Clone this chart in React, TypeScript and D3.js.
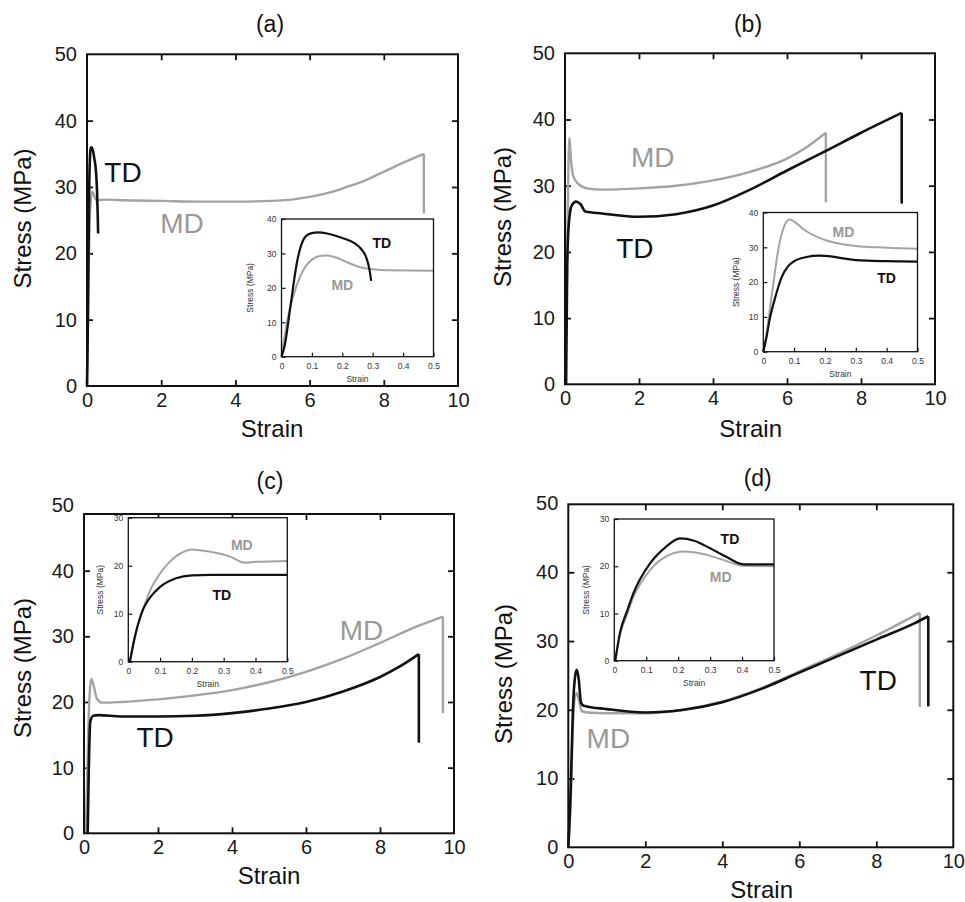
import React, { useEffect, useRef } from "react";
import * as d3 from "d3";

type Pt = [number, number];

// ---- panel (a) ----
const aMainTD: Pt[] = [[0, 0], [0.02, 8], [0.04, 20], [0.06, 30], [0.08, 34.5], [0.1, 35.8], [0.12, 36], [0.16, 35.5], [0.2, 34.2], [0.24, 32.5], [0.27, 29.5], [0.29, 25.5], [0.3, 23]];
const aMainMD: Pt[] = [[0, 0], [0.04, 15], [0.08, 26], [0.14, 29.3], [0.25, 28], [0.5, 28.1], [1, 28], [2, 27.9], [3, 27.8], [4, 27.8], [5, 27.9], [5.5, 28.1], [6, 28.5], [6.5, 29.1], [7, 30], [7.5, 31], [8, 32.3], [8.5, 33.6], [9.08, 35]];
const aInsetTD: Pt[] = [[0, 0], [0.01, 3], [0.03, 15], [0.05, 27], [0.065, 32.5], [0.08, 35], [0.1, 35.9], [0.12, 36.1], [0.15, 35.8], [0.2, 34.5], [0.24, 33], [0.26, 31.5], [0.28, 28.5], [0.29, 25], [0.295, 22]];
const aInsetMD: Pt[] = [[0, 0], [0.02, 11], [0.04, 18], [0.06, 23], [0.08, 26.3], [0.1, 28.2], [0.13, 29.3], [0.15, 29.4], [0.18, 28.8], [0.22, 27.3], [0.26, 26], [0.3, 25.4], [0.35, 25.1], [0.5, 25]];

// ---- panel (b) ----
const bMainTD: Pt[] = [[0.03, 0], [0.06, 18], [0.1, 24], [0.18, 27], [0.3, 27.6], [0.42, 27.2], [0.55, 26.1], [1, 25.8], [2, 25.3], [3, 25.7], [4, 27], [5, 29.4], [6, 32.3], [7, 35.1], [8, 38], [9.1, 41]];
const bMainMD: Pt[] = [[0, 0], [0.05, 15], [0.09, 32], [0.12, 37.2], [0.16, 34], [0.22, 31.5], [0.35, 30.3], [0.6, 29.6], [1, 29.4], [2, 29.6], [3, 30], [4, 30.8], [5, 32.1], [6, 34.1], [6.5, 35.7], [7.05, 38]];
const bInsetTD: Pt[] = [[0, 0], [0.01, 4], [0.02, 9], [0.04, 16], [0.06, 21.5], [0.08, 24.5], [0.1, 26], [0.14, 27.2], [0.18, 27.6], [0.22, 27.4], [0.26, 26.8], [0.3, 26.3], [0.4, 26], [0.5, 25.9]];
const bInsetMD: Pt[] = [[0, 0], [0.01, 5], [0.03, 18], [0.05, 30], [0.07, 36.5], [0.085, 38], [0.1, 37.4], [0.13, 35.2], [0.18, 32.8], [0.25, 31], [0.3, 30.4], [0.4, 29.9], [0.5, 29.6]];

// ---- panel (c) ----
const cMainTD: Pt[] = [[0.1, 0], [0.13, 10], [0.17, 17], [0.25, 17.9], [0.4, 18], [1, 17.8], [2, 17.8], [3, 17.9], [4, 18.3], [5, 19], [6, 20], [7, 21.6], [8, 23.8], [8.5, 25.3], [9.05, 27.3]];
const cMainMD: Pt[] = [[0.05, 0], [0.1, 12], [0.15, 21], [0.2, 23.5], [0.26, 22.5], [0.35, 20.5], [0.5, 19.9], [1, 20], [2, 20.4], [3, 21], [4, 21.8], [5, 23], [6, 24.6], [7, 26.6], [8, 29], [9, 31.5], [9.7, 33]];
const cInsetTD: Pt[] = [[0.005, 0], [0.02, 5], [0.047, 11], [0.07, 13.5], [0.1, 15.6], [0.15, 17.4], [0.2, 18], [0.26, 18.1], [0.5, 18.1]];
const cInsetMD: Pt[] = [[0.005, 0], [0.02, 5], [0.047, 11], [0.07, 15], [0.1, 18.4], [0.13, 20.8], [0.16, 22.4], [0.2, 23.4], [0.25, 23], [0.32, 21.9], [0.367, 20.6], [0.4, 20.8], [0.5, 21]];

// ---- panel (d) ----
const dMainTD: Pt[] = [[0, 0], [0.06, 8], [0.12, 20], [0.18, 25], [0.22, 25.8], [0.27, 24.5], [0.33, 21], [0.4, 20.6], [1, 20.1], [2, 19.6], [3, 20], [4, 21.1], [5, 23], [6, 25.4], [7, 27.8], [8, 30.2], [9, 32.6], [9.35, 33.6]];
const dMainMD: Pt[] = [[0, 0], [0.06, 6], [0.12, 18], [0.18, 22], [0.22, 22.4], [0.28, 21.3], [0.35, 19.8], [0.5, 19.6], [1, 19.5], [2, 19.5], [3, 20], [4, 21.2], [5, 23.1], [6, 25.6], [7, 28.1], [8, 30.8], [9.13, 34.1]];
const dInsetTD: Pt[] = [[0.003, 0], [0.018, 6], [0.04, 10.5], [0.06, 14.3], [0.112, 20.6], [0.16, 24], [0.206, 25.9], [0.25, 25.4], [0.3, 23.8], [0.35, 22], [0.404, 20.4], [0.5, 20.4]];
const dInsetMD: Pt[] = [[0.003, 0], [0.018, 5.5], [0.04, 9.8], [0.06, 13.5], [0.112, 19.2], [0.16, 22], [0.22, 23.1], [0.27, 22.7], [0.33, 21.6], [0.404, 20.1], [0.5, 20]];

// break (fracture) stress at end of each main curve
const aBreak = { td: null, md: 26 };
const bBreak = { td: 27.3, md: 27.5 };
const cBreak = { td: 13.8, md: 18.3 };
const dBreak = { td: 20.5, md: 20.4 };

const mainXTicks = [0, 2, 4, 6, 8, 10];
const mainYTicks = [0, 10, 20, 30, 40, 50];
const insetXTicks = [0, 0.1, 0.2, 0.3, 0.4, 0.5];
const insetYTicks40 = [0, 10, 20, 30, 40];
const insetYTicks30 = [0, 10, 20, 30];

const FONT = "'Liberation Sans', Arial, Helvetica, sans-serif";
const GRAY = "#a3a3a3";
const BLACK = "#111";

const panels = [
  {
    title: "(a)", titleX: 270, titleY: 32,
    frame: { l: 87, t: 54.3, r: 458, b: 386 }, y50: 54.3,
    xLabel: [272, 437], yLabel: [31, 218.5],
    td: aMainTD, md: aMainMD, brk: aBreak, tdLabel: [0.97, 32.3], mdLabel: [2.56, 24.6],
    inset: { l: 281.5, t: 219, r: 433.5, b: 356.7, yMax: 40, yTicks: insetYTicks40, td: aInsetTD, md: aInsetMD, tdLabel: [0.33, 33], mdLabel: [0.2, 20.8], yLabelDx: -29 },
  },
  {
    title: "(b)", titleX: 748, titleY: 32,
    frame: { l: 565, t: 53.3, r: 935, b: 384.3 }, y50: 53.3,
    xLabel: [750.7, 437], yLabel: [511, 217],
    td: bMainTD, md: bMainMD, brk: bBreak, tdLabel: [1.89, 20.6], mdLabel: [2.37, 34.4],
    inset: { l: 763.3, t: 212.5, r: 917.5, b: 351.7, yMax: 40, yTicks: insetYTicks40, td: bInsetTD, md: bInsetMD, tdLabel: [0.4, 21.3], mdLabel: [0.26, 34.3], yLabelDx: -24 },
  },
  {
    title: "(c)", titleX: 270, titleY: 488.5,
    frame: { l: 84, t: 514, r: 454, b: 833.3 }, y50: 505,
    xLabel: [269, 884], yLabel: [31, 668],
    td: cMainTD, md: cMainMD, brk: cBreak, tdLabel: [1.92, 14.7], mdLabel: [7.5, 31],
    inset: { l: 128.3, t: 517.7, r: 287.3, b: 661.7, yMax: 30, yTicks: insetYTicks30, td: cInsetTD, md: cInsetMD, tdLabel: [0.294, 13.9], mdLabel: [0.357, 24.3], yLabelDx: -25 },
  },
  {
    title: "(d)", titleX: 757.7, titleY: 485.5,
    frame: { l: 568.3, t: 504.3, r: 953.3, b: 847.3 }, y50: 503.5,
    xLabel: [761.7, 898], yLabel: [512, 674],
    td: dMainTD, md: dMainMD, brk: dBreak, tdLabel: [8.05, 24.35], mdLabel: [1.04, 15.9],
    inset: { l: 614.3, t: 519, r: 774, b: 660.7, yMax: 30, yTicks: insetYTicks30, td: dInsetTD, md: dInsetMD, tdLabel: [0.362, 25.7], mdLabel: [0.333, 17.8], yLabelDx: -25 },
  },
];

function styleAxis(sel: any, size: number, color = "#1a1a1a") {
  sel.select(".domain").remove();
  sel.attr("font-size", size).attr("font-family", FONT);
  sel.selectAll("text").attr("fill", color);
}

function drawPanel(svg: any, p: any) {
  const g = svg.append("g");
  const f = p.frame;
  const x = d3.scaleLinear().domain([0, 10]).range([f.l, f.r]);
  const y = d3.scaleLinear().domain([0, 50]).range([f.b, p.y50]);

  g.append("text").attr("x", p.titleX).attr("y", p.titleY).attr("text-anchor", "middle")
    .attr("font-size", 23).attr("font-family", FONT).attr("fill", BLACK).text(p.title);

  // tick labels
  const xl = g.append("g").attr("transform", `translate(0,${f.b})`)
    .call(d3.axisBottom(x).tickValues(mainXTicks).tickSize(0).tickPadding(7));
  styleAxis(xl, 20);
  const yl = g.append("g").attr("transform", `translate(${f.l},0)`)
    .call(d3.axisLeft(y).tickValues(mainYTicks).tickSize(0).tickPadding(10));
  styleAxis(yl, 20);

  // inward tick marks on all four sides
  const inner = [2, 4, 6, 8];
  const innerY = [10, 20, 30, 40];
  const marks = [
    g.append("g").attr("transform", `translate(0,${f.b})`).call(d3.axisBottom(x).tickValues(inner).tickSize(-6).tickFormat(() => "")),
    g.append("g").attr("transform", `translate(0,${f.t})`).call(d3.axisTop(x).tickValues(inner).tickSize(-6).tickFormat(() => "")),
    g.append("g").attr("transform", `translate(${f.l},0)`).call(d3.axisLeft(y).tickValues(innerY).tickSize(-6).tickFormat(() => "")),
    g.append("g").attr("transform", `translate(${f.r},0)`).call(d3.axisRight(y).tickValues(innerY).tickSize(-6).tickFormat(() => "")),
  ];
  marks.forEach((m) => { m.select(".domain").remove(); m.selectAll("line").attr("stroke", BLACK).attr("stroke-width", 1.8); });

  // axis titles
  g.append("text").attr("x", p.xLabel[0]).attr("y", p.xLabel[1]).attr("text-anchor", "middle")
    .attr("font-size", 24).attr("font-family", FONT).attr("fill", BLACK).text("Strain");
  g.append("text").attr("transform", `translate(${p.yLabel[0]},${p.yLabel[1]}) rotate(-90)`).attr("text-anchor", "middle")
    .attr("font-size", 24).attr("font-family", FONT).attr("fill", BLACK).text("Stress (MPa)");

  // curves
  const line = d3.line<Pt>().x((d) => x(d[0])).y((d) => y(d[1])).curve(d3.curveMonotoneX);
  const series = [
    { data: p.md, end: p.brk.md, color: GRAY, w: 2.4 },
    { data: p.td, end: p.brk.td, color: BLACK, w: 2.6 },
  ];
  series.forEach((s) => {
    g.append("path").datum(s.data).attr("d", line).attr("fill", "none")
      .attr("stroke", s.color).attr("stroke-width", s.w).attr("stroke-linejoin", "round");
    if (s.end != null) {
      const last = s.data[s.data.length - 1];
      g.append("line").attr("x1", x(last[0])).attr("x2", x(last[0]))
        .attr("y1", y(last[1])).attr("y2", y(s.end))
        .attr("stroke", s.color).attr("stroke-width", s.w);
    }
  });
  g.append("text").attr("x", x(p.tdLabel[0])).attr("y", y(p.tdLabel[1])).attr("dy", "0.36em").attr("text-anchor", "middle")
    .attr("font-size", 28).attr("font-family", FONT).attr("fill", BLACK).text("TD");
  g.append("text").attr("x", x(p.mdLabel[0])).attr("y", y(p.mdLabel[1])).attr("dy", "0.36em").attr("text-anchor", "middle")
    .attr("font-size", 28).attr("font-family", FONT).attr("fill", "#999").text("MD");

  g.append("rect").attr("x", f.l).attr("y", f.t).attr("width", f.r - f.l).attr("height", f.b - f.t)
    .attr("fill", "none").attr("stroke", BLACK).attr("stroke-width", 2);

  drawInset(g, p.inset);
}

function drawInset(g: any, s: any) {
  const ig = g.append("g");
  const x = d3.scaleLinear().domain([0, 0.5]).range([s.l, s.r]);
  const y = d3.scaleLinear().domain([0, s.yMax]).range([s.b, s.t]);
  ig.append("rect").attr("x", s.l).attr("y", s.t).attr("width", s.r - s.l).attr("height", s.b - s.t).attr("fill", "#fff");

  const xl = ig.append("g").attr("transform", `translate(0,${s.b})`)
    .call(d3.axisBottom(x).tickValues(insetXTicks).tickSizeInner(-4).tickSizeOuter(0).tickPadding(6)
      .tickFormat((d: any) => (d === 0 ? "0" : d3.format(".1f")(d))));
  styleAxis(xl, 8.5, "#333");
  const yl = ig.append("g").attr("transform", `translate(${s.l},0)`)
    .call(d3.axisLeft(y).tickValues(s.yTicks).tickSizeInner(-4).tickSizeOuter(0).tickPadding(5));
  styleAxis(yl, 8.5, "#333");
  [xl, yl].forEach((a) => a.selectAll("line").attr("stroke", BLACK).attr("stroke-width", 1.2));

  ig.append("text").attr("x", (s.l + s.r) / 2).attr("y", s.b + 25).attr("text-anchor", "middle")
    .attr("font-size", 8.5).attr("font-family", FONT).attr("fill", "#333").text("Strain");
  ig.append("text").attr("transform", `translate(${s.l + s.yLabelDx},${(s.t + s.b) / 2}) rotate(-90)`).attr("text-anchor", "middle")
    .attr("font-size", 8.5).attr("font-family", FONT).attr("fill", "#333").text("Stress (MPa)");

  const line = d3.line<Pt>().x((d) => x(d[0])).y((d) => y(d[1])).curve(d3.curveMonotoneX);
  ig.append("path").datum(s.md).attr("d", line).attr("fill", "none").attr("stroke", GRAY).attr("stroke-width", 2);
  ig.append("path").datum(s.td).attr("d", line).attr("fill", "none").attr("stroke", BLACK).attr("stroke-width", 2.2);

  ig.append("text").attr("x", x(s.tdLabel[0])).attr("y", y(s.tdLabel[1])).attr("dy", "0.36em").attr("text-anchor", "middle")
    .attr("font-size", 14).attr("font-weight", "bold").attr("font-family", FONT).attr("fill", BLACK).text("TD");
  ig.append("text").attr("x", x(s.mdLabel[0])).attr("y", y(s.mdLabel[1])).attr("dy", "0.36em").attr("text-anchor", "middle")
    .attr("font-size", 14).attr("font-weight", "bold").attr("font-family", FONT).attr("fill", "#999").text("MD");

  ig.append("rect").attr("x", s.l).attr("y", s.t).attr("width", s.r - s.l).attr("height", s.b - s.t)
    .attr("fill", "none").attr("stroke", BLACK).attr("stroke-width", 1.3);
}

export default function App() {
  const ref = useRef<SVGSVGElement>(null);

  useEffect(() => {
    document.body.style.margin = "0";
    const svg = d3.select(ref.current);
    svg.selectAll("*").remove();
    panels.forEach((p) => drawPanel(svg, p));
  }, []);

  return <svg ref={ref} width={965} height={902} style={{ display: "block", background: "#fff" }} />;
}
